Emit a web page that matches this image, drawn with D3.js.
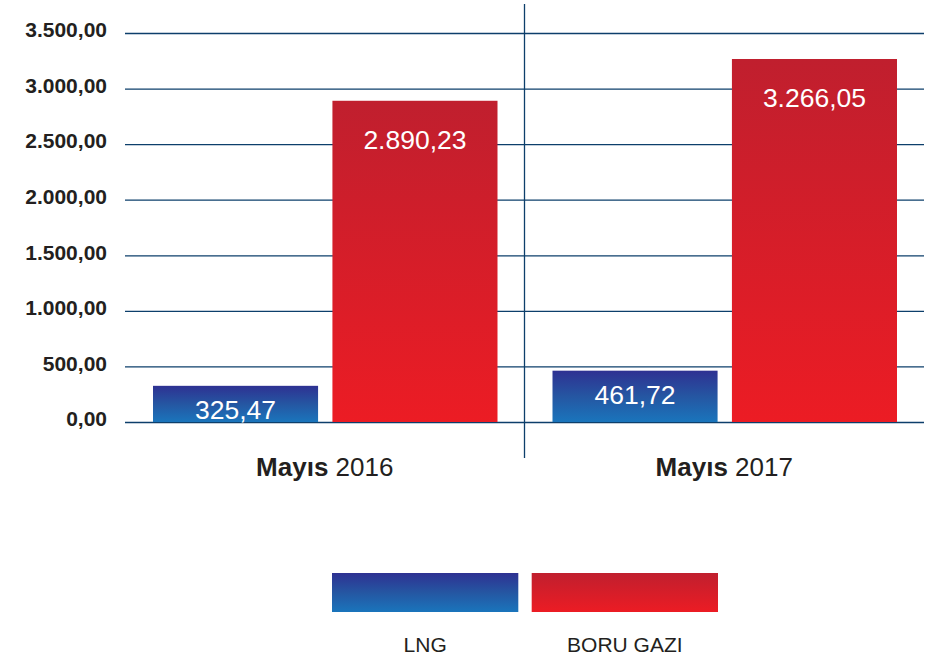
<!DOCTYPE html>
<html>
<head>
<meta charset="utf-8">
<script src="https://cdn.jsdelivr.net/npm/d3@7"></script>
<style>
  body { margin: 0; background: #fff; }
  svg { display: block; font-family: "Liberation Sans", Arial, Helvetica, sans-serif; }
</style>
</head>
<body>
<svg id="chart" width="933" height="662"></svg>
<script>
// data
const periods = ["2016", "2017"];
const periodPrefix = "Mayıs";
const series = ["LNG", "BORU GAZI"];
const lngValues = [325.47, 461.72];
const boruValues = [2890.23, 3266.05];
const yTicks = [0, 500, 1000, 1500, 2000, 2500, 3000, 3500];

const svg = d3.select("#chart"),
  plot = { left: 125, right: 924, top: 33, bottom: 422 },
  ink = "#231f20",
  gridColor = "#0d3f6b";

const tr = d3.formatLocale({ decimal: ",", thousands: ".", grouping: [3], currency: ["", ""] });
const fmt = tr.format(",.2f");

const data = periods.map((p, i) => ({
  period: p,
  values: [
    { key: "LNG", value: lngValues[i] },
    { key: "BORU GAZI", value: boruValues[i] },
  ],
}));

// gradients
const defs = svg.append("defs");
const grads = {
  "LNG": [["0%", "#2e3192"], ["50%", "#2556a2"], ["100%", "#1a75bc"]],
  "BORU GAZI": [["0%", "#c01f2e"], ["100%", "#ec1c24"]],
};
const gradId = { "LNG": "g-lng", "BORU GAZI": "g-boru" };
Object.keys(grads).forEach((k) => {
  const g = defs.append("linearGradient")
    .attr("id", gradId[k])
    .attr("x1", 0).attr("y1", 0).attr("x2", 0).attr("y2", 1);
  grads[k].forEach(([o, c]) => g.append("stop").attr("offset", o).attr("stop-color", c));
});

const x0 = d3.scaleBand().domain(periods).range([plot.left, plot.right]).padding(0);
const x1 = d3.scaleBand().domain(series).range([28, x0.bandwidth() - 27]).paddingInner(0.08);
const y = d3.scaleLinear().domain([0, 3500]).range([plot.bottom, plot.top]);

// y axis + grid
const gy = svg.append("g")
  .attr("transform", `translate(${plot.left},0)`)
  .call(d3.axisLeft(y).tickValues(yTicks).tickSize(-(plot.right - plot.left)).tickPadding(18).tickFormat(fmt));
gy.select(".domain").remove();
gy.selectAll(".tick line").attr("stroke", gridColor).attr("stroke-width", 1.3);
gy.selectAll(".tick text")
  .attr("fill", ink)
  .attr("font-size", 21)
  .attr("font-weight", "bold")
  .attr("dy", "0.18em");

// separator between periods
svg.append("line")
  .attr("x1", x0("2017")).attr("x2", x0("2017"))
  .attr("y1", 4).attr("y2", 458)
  .attr("stroke", gridColor).attr("stroke-width", 1.3);

// bars
const groups = svg.append("g").selectAll("g")
  .data(data).join("g")
  .attr("transform", (d) => `translate(${x0(d.period)},0)`);

groups.selectAll("rect")
  .data((d) => d.values).join("rect")
  .attr("x", (d) => x1(d.key))
  .attr("width", x1.bandwidth())
  .attr("y", (d) => y(d.value))
  .attr("height", (d) => y(0) - y(d.value))
  .attr("fill", (d) => `url(#${gradId[d.key]})`);

groups.selectAll("text.val")
  .data((d) => d.values).join("text")
  .attr("class", "val")
  .attr("x", (d) => x1(d.key) + x1.bandwidth() / 2)
  .attr("y", (d) => y(d.value) + (d.key === "LNG" ? 33 : 48))
  .attr("text-anchor", "middle")
  .attr("fill", "#fff")
  .attr("font-size", 26.5)
  .text((d) => fmt(d.value));

// x axis labels
const gx = svg.append("g")
  .attr("transform", `translate(0,${plot.bottom})`)
  .call(d3.axisBottom(x0).tickSize(0).tickFormat(""));
gx.select(".domain").remove();
gx.selectAll(".tick text").each(function (d) {
  const t = d3.select(this)
    .attr("y", 54).attr("dy", 0)
    .attr("fill", ink)
    .attr("font-size", 26);
  t.append("tspan").attr("font-weight", "bold").text(periodPrefix);
  t.append("tspan").text(" " + d);
});

// legend
const lx = d3.scaleBand().domain(series).range([332, 718]).paddingInner(0.067);
const leg = svg.append("g").selectAll("g").data(series).join("g");
leg.append("rect")
  .attr("x", (d) => lx(d))
  .attr("y", 573)
  .attr("width", lx.bandwidth())
  .attr("height", 39)
  .attr("fill", (d) => `url(#${gradId[d]})`);
leg.append("text")
  .attr("x", (d) => lx(d) + lx.bandwidth() / 2)
  .attr("y", 652)
  .attr("text-anchor", "middle")
  .attr("fill", ink)
  .attr("font-size", 21)
  .text((d) => d);
</script>
</body>
</html>
